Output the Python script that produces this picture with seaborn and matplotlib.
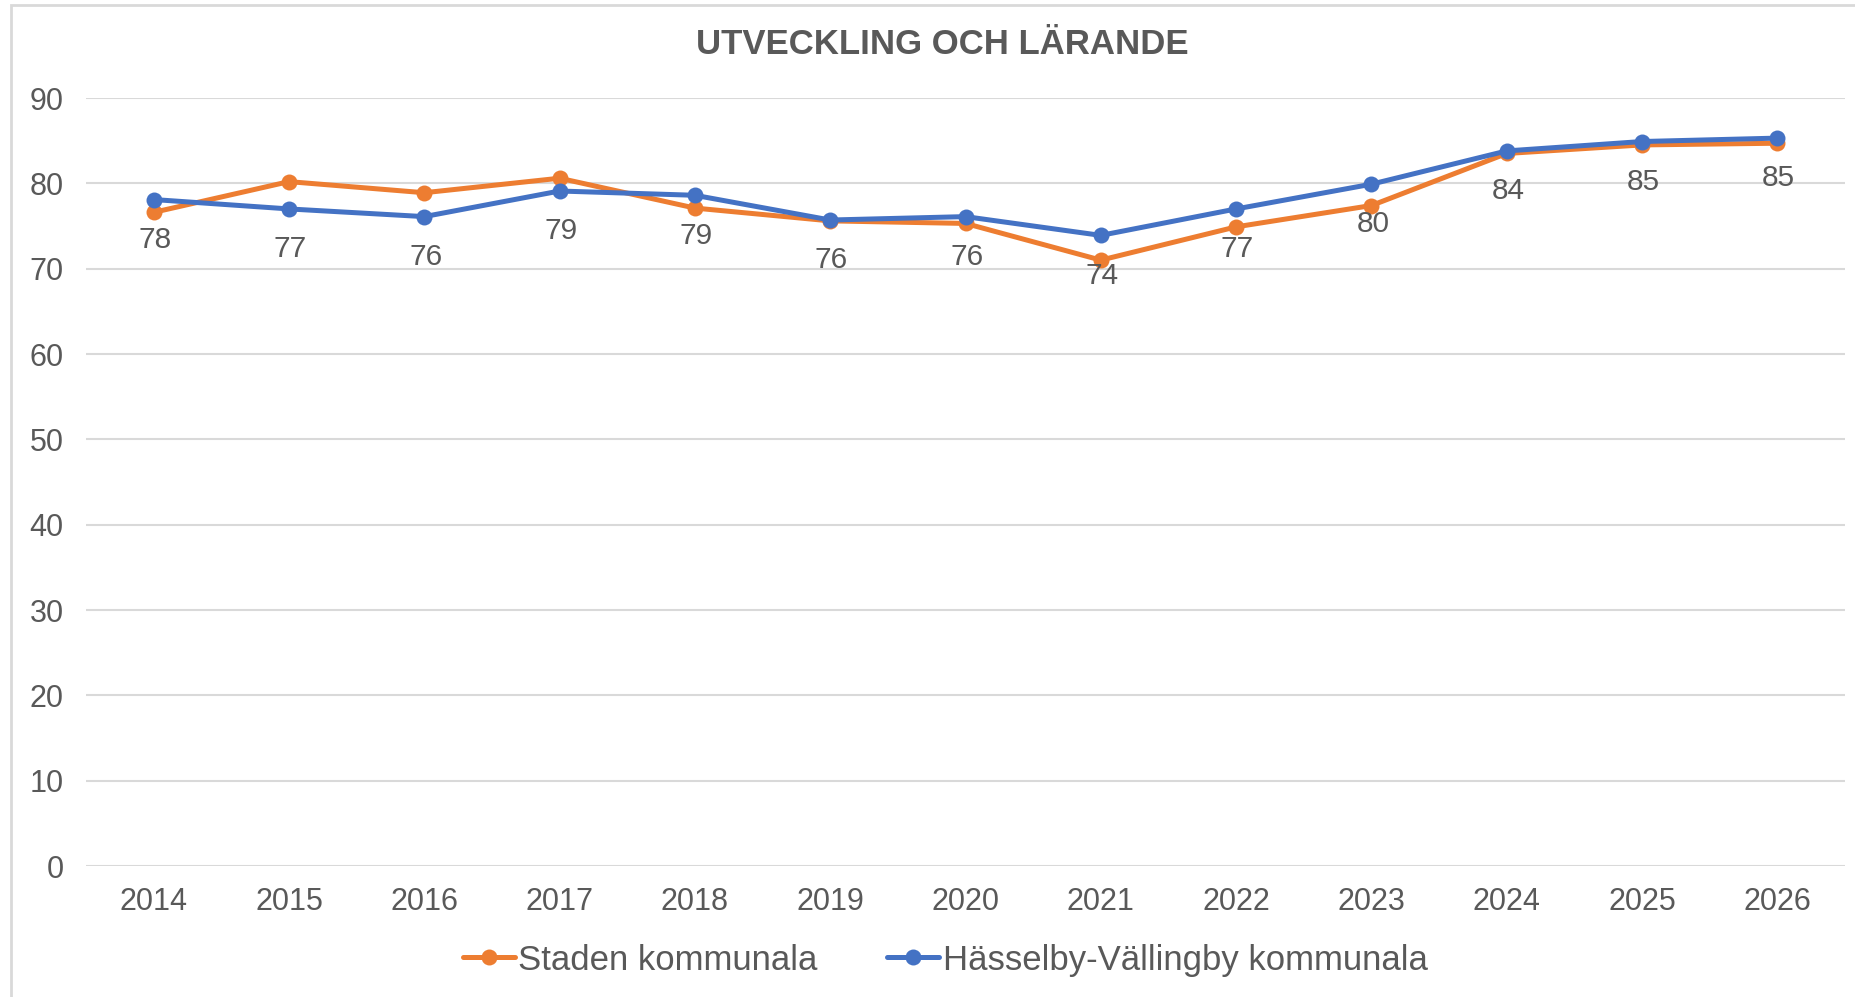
import matplotlib
matplotlib.use("Agg")
import matplotlib.pyplot as plt
import seaborn as sns
import pandas as pd
from matplotlib.patches import Rectangle

years = [2014, 2015, 2016, 2017, 2018, 2019, 2020, 2021, 2022, 2023, 2024, 2025, 2026]
staden = [76.6, 80.2, 78.9, 80.6, 77.1, 75.6, 75.3, 71.0, 74.9, 77.4, 83.5, 84.5, 84.7]
hasselby = [78.1, 77.0, 76.1, 79.1, 78.6, 75.7, 76.1, 73.9, 77.0, 79.9, 83.8, 84.9, 85.3]
series_names = ["Staden kommunala", "Hässelby-Vällingby kommunala"]
title = "UTVECKLING OCH LÄRANDE"
yticks = [0, 10, 20, 30, 40, 50, 60, 70, 80, 90]

sns.set_theme(style="white")
plt.rcParams['font.family'] = ['Liberation Sans', 'DejaVu Sans']

TXT = "#595959"
ORANGE = "#ED7D31"
BLUE = "#4472C4"
GRID = "#D9D9D9"

fig = plt.figure(figsize=(18.55, 9.97), dpi=100)
ax = fig.add_axes([86/1855, 1-866/997, (1845-86)/1855, (866-98)/997])

df = pd.DataFrame({"year": years, series_names[0]: staden, series_names[1]: hasselby})

sns.lineplot(data=df, x="year", y=series_names[0], ax=ax, color=ORANGE, marker="o",
             markersize=11.5, markeredgewidth=0, linewidth=3.6, label=series_names[0])
sns.lineplot(data=df, x="year", y=series_names[1], ax=ax, color=BLUE, marker="o",
             markersize=11.5, markeredgewidth=0, linewidth=3.6, label=series_names[1])

for x, v in zip(years, hasselby):
    ax.annotate(f"{v:.0f}", xy=(x, v), xytext=(1, -29), textcoords="offset points",
                ha="center", va="center", fontsize=21.5, color=TXT)

ax.set_ylim(0, 90)
ax.set_xlim(years[0] - 0.5, years[-1] + 0.5)
ax.set_yticks(yticks)
ax.set_xticks(years)
ax.set_xticklabels([str(y) for y in years])
ax.set_xlabel("")
ax.set_ylabel("")
ax.yaxis.grid(True, color=GRID, linewidth=1.5)
ax.xaxis.grid(False)
for s in ax.spines.values():
    s.set_visible(False)
ax.tick_params(axis="both", length=0, labelsize=22, labelcolor=TXT)
ax.tick_params(axis="y", pad=16)
ax.tick_params(axis="x", pad=15)

fig.text(942/1855, 1-44/997, title, ha="center", va="center", fontsize=25,
         fontweight="bold", color=TXT)

ax.get_legend().remove()
h, l = ax.get_legend_handles_labels()
leg = fig.legend(h, l, loc="center", bbox_to_anchor=(945/1855, 1-960/997), ncol=2,
                 frameon=False, fontsize=25, handlelength=1.5, handletextpad=0.1,
                 columnspacing=2.0, labelcolor=TXT)

fig.patches.append(Rectangle((11/1855, -0.1), 1.2, 1 - 5/997 + 0.1, transform=fig.transFigure,
                             fill=False, edgecolor=GRID, linewidth=2))

fig.savefig("out.png", dpi=100)
